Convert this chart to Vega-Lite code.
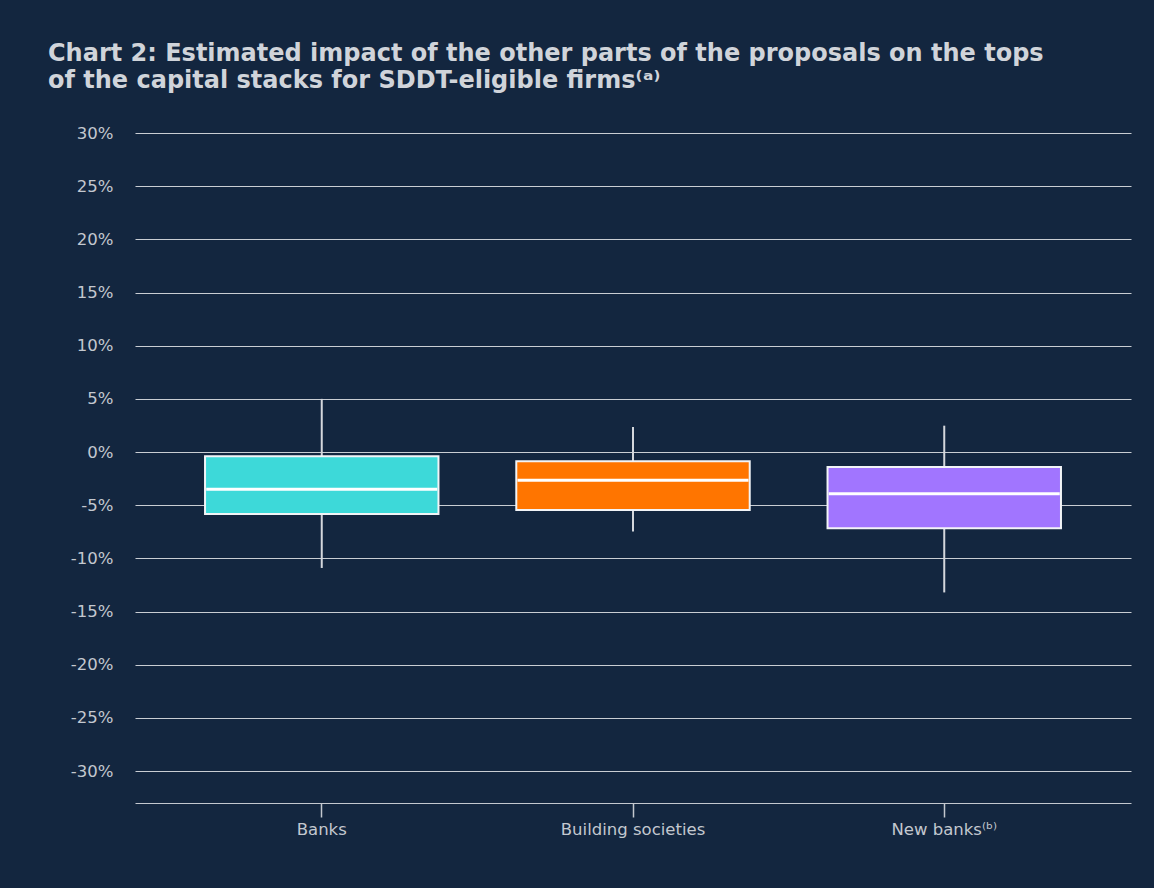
{
  "$schema": "https://vega.github.io/schema/vega-lite/v6.json",
  "autosize": {"type": "none"},
  "width": 996,
  "height": 670,
  "padding": {"left": 135, "top": 133, "right": 23, "bottom": 85},
  "background": "#13263f",
  "title": {
    "text": ["Chart 2: Estimated impact of the other parts of the proposals on the tops", "of the capital stacks for SDDT-eligible firms⁽ᵃ⁾"],
    "anchor": "start",
    "frame": "group",
    "dx": -87,
    "offset": 32,
    "font": "DejaVu Sans",
    "fontWeight": "bold",
    "fontSize": 24,
    "lineHeight": 27,
    "color": "#d0d4da"
  },
  "config": {
    "view": {"stroke": null},
    "axis": {"labelFont": "DejaVu Sans", "labelFontSize": 16.5, "labelColor": "#c3c8cf", "titleFont": "DejaVu Sans"}
  },
  "data": {
    "values": [
      {"group": "Banks", "label": "Banks", "min": -10.9, "q1": -5.83, "median": -3.5, "q3": -0.4, "max": 5.0},
      {"group": "Building societies", "label": "Building societies", "min": -7.48, "q1": -5.45, "median": -2.66, "q3": -0.87, "max": 2.35},
      {"group": "New banks", "label": "New banks⁽ᵇ⁾", "min": -13.2, "q1": -7.17, "median": -3.91, "q3": -1.41, "max": 2.48}
    ]
  },
  "encoding": {
    "x": {
      "field": "label",
      "type": "nominal",
      "sort": null,
      "scale": {"paddingInner": 0, "paddingOuter": 0.1},
      "axis": {
        "title": null,
        "labelAngle": 0,
        "domain": true,
        "domainColor": "#c3c8cf",
        "domainWidth": 1.2,
        "ticks": true,
        "tickColor": "#c3c8cf",
        "tickSize": 14,
        "tickWidth": 1.5,
        "labelPadding": 4,
        "grid": false
      }
    }
  },
  "layer": [
    {
      "mark": {"type": "rule", "color": "#d4d7dc", "strokeWidth": 2},
      "encoding": {
        "y": {
          "field": "min",
          "type": "quantitative",
          "scale": {"domain": [-33, 30], "nice": false, "zero": false},
          "axis": {
            "title": null,
            "values": [-30, -25, -20, -15, -10, -5, 0, 5, 10, 15, 20, 25, 30],
            "labelExpr": "datum.value + '%'",
            "domain": false,
            "ticks": false,
            "labelPadding": 22,
            "grid": true,
            "gridColor": "#c9cdd3",
            "gridWidth": 1.2,
            "gridOpacity": 1
          }
        },
        "y2": {"field": "max"}
      }
    },
    {
      "mark": {"type": "bar", "stroke": "#f2f4f7", "strokeWidth": 2, "width": {"band": 0.75}},
      "encoding": {
        "y": {"field": "q1", "type": "quantitative"},
        "y2": {"field": "q3"},
        "color": {
          "field": "group",
          "type": "nominal",
          "scale": {"domain": ["Banks", "Building societies", "New banks"], "range": ["#3dd9d9", "#ff7500", "#a175ff"]},
          "legend": null
        }
      }
    },
    {
      "mark": {"type": "tick", "color": "#ffffff", "thickness": 3, "size": 231, "opacity": 1},
      "encoding": {
        "y": {"field": "median", "type": "quantitative"}
      }
    }
  ]
}
